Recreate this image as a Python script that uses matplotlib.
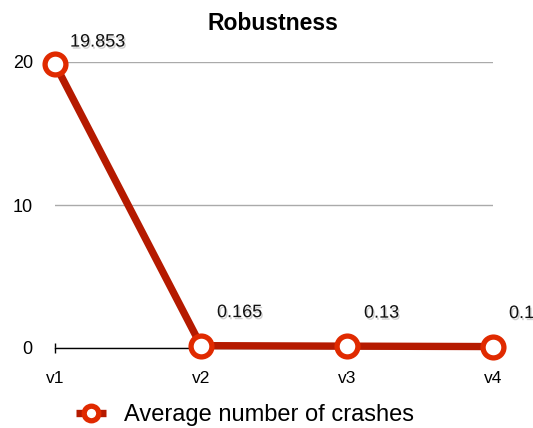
import matplotlib
matplotlib.use("Agg")
import matplotlib.pyplot as plt
import matplotlib.patheffects as pe
from matplotlib.legend_handler import HandlerTuple

plt.rcParams["font.family"] = ["Liberation Sans", "DejaVu Sans"]

categories = ["v1", "v2", "v3", "v4"]
values = [19.853, 0.165, 0.13, 0.1]
value_labels = ["19.853", "0.165", "0.13", "0.1"]
yticks = [0, 10, 20]

fig = plt.figure(figsize=(5.33, 4.28), dpi=100)
ax = fig.add_axes([55/533, 80/428, (493-55)/533, (348-62)/428])

x = list(range(len(categories)))
ln, = ax.plot(x, values, color="#B51A00", lw=5.3, solid_capstyle="butt", zorder=3, clip_on=False)
mk, = ax.plot(x, values, ls="none", marker="o", ms=15, mfc="white", mec="#E02A00", mew=3.8,
              zorder=4, clip_on=False)

ax.set_xlim(0, 3)
ax.set_ylim(0, 20)
ax.set_yticks(yticks)
ax.set_yticklabels([str(t) for t in yticks], fontsize=13)
ax.set_xticks(x)
ax.set_xticklabels(categories, fontsize=12.5)
ax.tick_params(axis="y", length=0, pad=16)
ax.tick_params(axis="x", length=7, direction="inout", pad=13, width=1)
for s in ["top", "right", "left"]:
    ax.spines[s].set_visible(False)
ax.spines["bottom"].set_color("black")
ax.spines["bottom"].set_linewidth(1)
ax.yaxis.grid(True, color="#aaaaaa", lw=1)
ax.set_axisbelow(True)

offsets = [(15, 22), (16, 33), (17, 33), (16, 33)]
shadow = [pe.SimplePatchShadow(offset=(1, -1.5), shadow_rgbFace="#999999", alpha=0.45), pe.Normal()]
for xi, v, lab, off in zip(x, values, value_labels, offsets):
    ax.annotate(lab, (xi, v), xytext=off, textcoords="offset pixels", ha="left", va="center",
                fontsize=13, color="#111111", annotation_clip=False, path_effects=shadow)

fig.text(273/533, 1 - 24/428, "Robustness", ha="center", va="center", fontsize=16.5, fontweight="bold")

leg = fig.legend(handles=[(ln, mk)], labels=["Average number of crashes"],
                 handler_map={tuple: HandlerTuple(ndivide=1)},
                 loc="center", bbox_to_anchor=(245/533, 1 - 415/428), frameon=False, fontsize=17,
                 handlelength=1.25, handletextpad=0.75, markerscale=0.7)

fig.savefig("out.png", dpi=100)
